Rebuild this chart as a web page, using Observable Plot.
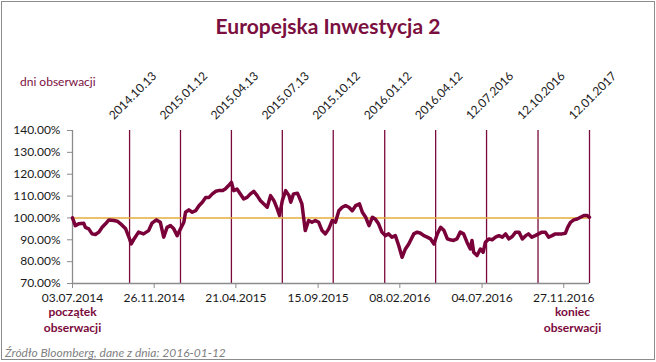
<!DOCTYPE html>
<html>
<head>
<meta charset="utf-8">
<script src="https://cdn.jsdelivr.net/npm/d3@7"></script>
<script src="https://cdn.jsdelivr.net/npm/@observablehq/plot@0.6"></script>
<style>
  html, body { margin: 0; padding: 0; background: #fff; }
  #wrap { position: relative; width: 656px; height: 362px; overflow: hidden; font-family: Lato, "Open Sans", sans-serif; }
  #frame { position: absolute; left: 1px; top: 1px; width: 652px; height: 357px; border: 1px solid #8c8c8c; pointer-events: none; }
  #title { position: absolute; left: 0; width: 656px; top: 15px; line-height: 21px; text-align: center; font-size: 21px; font-weight: bold; color: #7b0f3f; }
  #dni { position: absolute; left: 20px; top: 74px; font-size: 12px; color: #7b0f3f; }
  #caption { position: absolute; left: 5px; top: 345px; font-size: 12px; font-style: italic; color: #7f7f7f; }
  #chart { position: absolute; left: 0; top: 0; }
</style>
</head>
<body>
<div id="wrap">
  <div id="chart"></div>
  <div id="title">Europejska Inwestycja 2</div>
  <div id="dni">dni obserwacji</div>
  <div id="caption">Źródło Bloomberg, dane z dnia: 2016-01-12</div>
  <div id="frame"></div>
</div>
<script>
// Observation start and end
const startDate = "2014-07-03";
const endDate = "2017-01-12";

// Days since observation start (2014-07-03) and index value in %
const days = [0,5,11,20,23,29,35,41,47,53,59,65,74,80,86,95,102,105,110,118,127,136,142,150,157,163,169,175,181,187,193,199,202,208,214,220,226,232,238,244,250,256,261,268,273,279,284,288,294,300,306,312,318,324,330,336,342,348,354,360,366,370,375,381,387,390,395,402,404,410,413,416,422,428,434,440,446,452,458,464,470,476,482,488,494,500,506,513,518,524,530,536,541,547,553,559,565,571,577,583,589,595,601,610,616,622,628,634,640,646,652,658,664,670,675,681,687,693,699,705,711,714,717,723,729,734,738,744,750,756,762,768,774,780,786,792,798,804,810,815,821,827,833,839,845,851,857,863,869,875,881,885,890,896,902,908,914,920,924];
const values = [100,96.5,97.3,97.6,95.7,95,92.7,92.4,93.5,95.7,97.3,99.1,98.8,98.5,97.3,95,90.4,88.1,90.4,93.5,92.7,94.2,97.6,99.1,98,91.2,95.7,96.5,95,91.9,95,98,102.6,103.7,102.6,103.3,105.6,107.2,109.4,109.4,111,112.2,112.5,112.5,113.2,114.8,116.3,112.5,113.2,111,108.7,109.4,111,112.2,110.2,107.9,106.4,104.9,110.2,107.9,104.1,101.1,107.9,112.5,110.2,107.2,111,111.3,110.2,106.4,100.3,94.2,98.8,98,98.8,98,94.2,92.7,95,98.8,98,103.3,104.9,105.6,104.9,103.3,105.6,106.4,102.6,100.3,96.5,100.3,99.5,97.3,93.5,91.9,92.7,91.2,91.9,87.4,82,85.8,88.1,92.7,93.5,93,91.9,91.2,90.4,88.1,92.7,95.7,94.2,90.4,90,89.7,90.4,93.5,92.7,88.9,85.8,89.7,84.3,82.8,85.8,84.3,88.9,90.4,90,91.2,91.9,91.2,92.7,90.4,91.5,93.5,93.5,90.4,91.9,92.7,91.2,91.9,92.7,93.5,93.5,91.2,91.9,92.7,92.7,92.7,93,95.7,98,99.1,99.5,100.3,101.1,101.1,100.3];

// Observation days (vertical lines) and their labels
const obsDates = ["2014-10-13","2015-01-12","2015-04-13","2015-07-13","2015-10-12","2016-01-12","2016-04-12","2016-07-12","2016-10-12","2017-01-12"];
const obsLabels = ["2014.10.13","2015.01.12","2015.04.13","2015.07.13","2015.10.12","2016.01.12","2016.04.12","12.07.2016","12.10.2016","12.01.2017"];

// Axis ticks
const xTickLabels = ["03.07.2014","26.11.2014","21.04.2015","15.09.2015","08.02.2016","04.07.2016","27.11.2016"];
const yTicks = [70,80,90,100,110,120,130,140];

const parseISO = d3.utcParse("%Y-%m-%d");
const parseDMY = d3.utcParse("%d.%m.%Y");
const start = parseISO(startDate);
const end = parseISO(endDate);
const series = days.map((d, i) => ({date: d3.utcDay.offset(start, d), value: values[i]}));
const obs = obsDates.map((d, i) => ({date: parseISO(d), label: obsLabels[i]}));
const xTicks = xTickLabels.map(parseDMY);

const maroon = "#7b0a3c";
const lineColor = "#7a003a";
const axisGray = "#8c8c8c";

const chart = Plot.plot({
  width: 656,
  height: 362,
  marginLeft: 72,
  marginRight: 67,
  marginTop: 130,
  marginBottom: 79,
  style: {fontFamily: "Lato, 'Open Sans', sans-serif", fontSize: "12px", background: "transparent", overflow: "visible"},
  x: {type: "utc", domain: [start, end]},
  y: {domain: [70, 140]},
  marks: [
    Plot.ruleX(obs, {x: "date", stroke: maroon, strokeWidth: 1.3}),
    Plot.ruleY([100], {stroke: "#e5ac3a", strokeWidth: 1.5}),
    Plot.ruleX([start], {stroke: axisGray, strokeWidth: 1.3}),
    Plot.ruleY([70], {stroke: axisGray, strokeWidth: 1.3}),
    Plot.axisY({ticks: yTicks, tickFormat: d => d.toFixed(2) + "%", tickSize: 5, tickPadding: 7, stroke: axisGray, fill: "#1a1a1a", label: null, fontSize: 12}),
    Plot.axisX({ticks: xTicks, tickFormat: d3.utcFormat("%d.%m.%Y"), tickSize: 5, tickPadding: 5, stroke: axisGray, fill: "#1a1a1a", label: null, fontSize: 12}),
    Plot.line(series, {x: "date", y: "value", stroke: lineColor, strokeWidth: 3.5, strokeLinejoin: "round", curve: "linear"}),
    Plot.text(obs, {x: "date", text: "label", frameAnchor: "top", dy: -38, rotate: -45, textAnchor: "middle", fill: "#1a1a1a", fontSize: 12}),
    Plot.text([start], {x: d => d, text: ["początek"], frameAnchor: "bottom", dy: 32, fill: maroon, fontWeight: "bold", fontSize: 12}),
    Plot.text([start], {x: d => d, text: ["obserwacji"], frameAnchor: "bottom", dy: 48, fill: maroon, fontWeight: "bold", fontSize: 12}),
    Plot.text([end], {x: d => d, text: ["koniec"], frameAnchor: "bottom", dx: -17, dy: 32, fill: maroon, fontWeight: "bold", fontSize: 12}),
    Plot.text([end], {x: d => d, text: ["obserwacji"], frameAnchor: "bottom", dx: -17, dy: 48, fill: maroon, fontWeight: "bold", fontSize: 12})
  ]
});
document.getElementById("chart").appendChild(chart);
</script>
</body>
</html>
